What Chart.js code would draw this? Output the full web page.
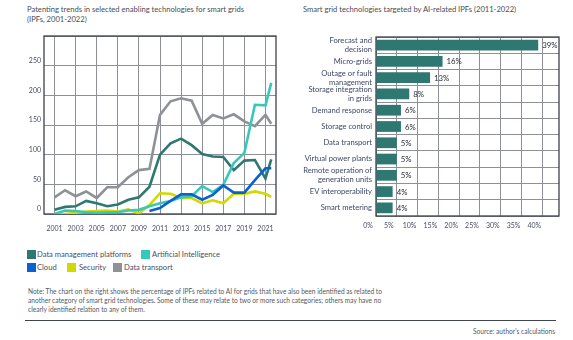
<!DOCTYPE html>
<html>
<head>
<meta charset="utf-8">
<script src="https://cdn.jsdelivr.net/npm/chart.js@4.4.1/dist/chart.umd.min.js"></script>
<style>
  body { margin: 0; background: #fff; font-family: Lato, "Open Sans", sans-serif; }
  #page { position: relative; width: 573px; height: 340px; overflow: hidden; }
  .title { position: absolute; font-size: 7.6px; line-height: 9.5px; color: #4a4d57; }
  canvas { position: absolute; top: 0; }
  .legend { position: absolute; font-size: 7.6px; color: #4a4d66; }
  .legend span { position: absolute; white-space: nowrap; line-height: 9px; }
  .legend i { position: absolute; width: 9px; height: 9px; }
  #note { position: absolute; left: 28px; top: 287px; font-size: 6.6px; line-height: 9px; color: #55585f; white-space: nowrap; }
  #rule { position: absolute; left: 25px; top: 320px; width: 531px; height: 1px; background: #3f434c; }
  #source { position: absolute; right: 18px; top: 327px; font-size: 6.6px; color: #55585f; }
</style>
</head>
<body>
<div id="page">
  <div class="title" style="left:27px; top:5px;">Patenting trends in selected enabling technologies for smart grids<br>(IPFs, 2001-2022)</div>
  <div class="title" style="left:303px; top:5px;">Smart grid technologies targeted by AI-related IPFs (2011-2022)</div>

  <canvas id="trends" width="290" height="240" style="left:0"></canvas>
  <canvas id="targets" width="283" height="240" style="left:290px"></canvas>

  <div class="legend" id="legend"></div>

  <div id="note">Note: The chart on the right shows the percentage of IPFs related to AI for grids that have also been identified as related to<br>another category of smart grid technologies. Some of these may relate to two or more such categories; others may have no<br>clearly identified relation to any of them.</div>
  <div id="rule"></div>
  <div id="source">Source: author's calculations</div>
</div>

<script>
// patent families per year, 2001-2022
const years = [2001, 2002, 2003, 2004, 2005, 2006, 2007, 2008, 2009, 2010, 2011,
               2012, 2013, 2014, 2015, 2016, 2017, 2018, 2019, 2020, 2021, 2022];
const dataManagement = [7, 12, 13, 22, 18, 13, 16, 24, 28, 46, 100, 119, 127, 116, 101, 97, 96, 74, 90, 91, 60, 92];
const artificialIntelligence = [0, 6, 5, 3, 2, 3, 3, 6, 7, 13, 18, 22, 28, 30, 47, 37, 49, 86, 103, 184, 183, 221];
const cloud = [null, null, null, null, null, null, null, null, null, 5, 10, 22, 33, 33, 24, 32, 48, 36, 36, 57, 77, 77];
const security = [0, 0, 2, 4, 5, 6, 4, 8, 1, 15, 35, 34, 27, 27, 18, 23, 18, 34, 34, 38, 34, 29];
const dataTransport = [28, 40, 30, 38, 27, 45, 45, 62, 74, 76, 167, 190, 195, 191, 152, 167, 161, 168, 156, 148, 167, 152];
const yearTicks = [2001, 2003, 2005, 2007, 2009, 2011, 2013, 2015, 2017, 2019, 2021];

// share of AI-related IPFs per smart grid technology (%)
const technologies = [['Forecast and', 'decision'], 'Micro-grids', ['Outage or fault', 'management'],
  ['Storage integration', 'in grids'], 'Demand response', 'Storage control', 'Data transport',
  'Virtual power plants', ['Remote operation of', 'generation units'], 'EV interoperability', 'Smart metering'];
const techShare = [39, 16, 13, 8, 6, 6, 5, 5, 5, 4, 4];
const shareTicks = [0, 5, 10, 15, 20, 25, 30, 35, 40];

const series = [
  { label: 'Data management platforms', data: dataManagement, color: '#2f7771' },
  { label: 'Artificial Intelligence', data: artificialIntelligence, color: '#36c8b8' },
  { label: 'Cloud', data: cloud, color: '#0a62d0' },
  { label: 'Security', data: security, color: '#d3d800' },
  { label: 'Data transport', data: dataTransport, color: '#8e9196' }
];

const FONT = 'Lato, "Open Sans", sans-serif';
const GRID = '#8d9096';
const AXIS = '#3c414b';

// the last point (2022) sits inside the final interval
const xOf = (y) => (y === 2022 ? 2021.55 : y);

// box round the plot area
const frame = {
  id: 'frame',
  beforeDatasetsDraw(chart) {
    const a = chart.chartArea;
    const ctx = chart.ctx;
    ctx.save();
    ctx.strokeStyle = AXIS;
    ctx.lineWidth = 1.3;
    ctx.strokeRect(a.left, a.top, a.right - a.left, a.bottom - a.top);
    ctx.restore();
  }
};

const valueLabels = {
  id: 'valueLabels',
  afterDatasetsDraw(chart) {
    const ctx = chart.ctx;
    const meta = chart.getDatasetMeta(0);
    ctx.save();
    ctx.font = '7.8px ' + FONT;
    ctx.fillStyle = '#2a2f3a';
    ctx.textBaseline = 'middle';
    meta.data.forEach((bar, i) => {
      ctx.fillText(techShare[i] + '%', bar.x + 4, bar.y + 0.5);
    });
    ctx.restore();
  }
};

new Chart(document.getElementById('trends'), {
  type: 'line',
  data: {
    datasets: series.map((s, i) => ({
      label: s.label,
      data: years.map((y, j) => ({ x: xOf(y), y: s.data[j] })).filter(p => p.y !== null),
      borderColor: s.color,
      backgroundColor: s.color,
      borderWidth: 2.6,
      pointRadius: 0,
      tension: 0,
      order: [2, 1, 0, 3, 4][i]
    }))
  },
  options: {
    responsive: false,
    animation: false,
    layout: { padding: { left: 0, top: 36, right: 14, bottom: 0 } },
    plugins: { legend: { display: false }, tooltip: { enabled: false } },
    scales: {
      x: {
        type: 'linear',
        min: 2000,
        max: 2022,
        afterBuildTicks: (scale) => { scale.ticks = yearTicks.map(v => ({ value: v })); },
        afterFit: (scale) => { scale.height = 26; },
        grid: { color: GRID, lineWidth: 1, drawTicks: false },
        border: { display: false },
        ticks: {
          padding: 11,
          maxRotation: 0,
          autoSkip: false,
          color: '#4a4d66',
          font: { family: FONT, size: 7 },
          callback: (v) => String(v)
        }
      },
      y: {
        min: 0,
        max: 300,
        afterFit: (scale) => { scale.width = 44; },
        grid: { color: GRID, lineWidth: 1, drawTicks: false },
        border: { display: false },
        ticks: {
          stepSize: 50,
          padding: 3,
          labelOffset: -5,
          color: '#4a4d66',
          font: { family: FONT, size: 7 },
          callback: (v) => (v === 300 ? '' : v)
        }
      }
    }
  },
  plugins: [frame]
});

new Chart(document.getElementById('targets'), {
  type: 'bar',
  data: {
    labels: technologies,
    datasets: [{
      data: techShare,
      backgroundColor: '#2f7771',
      barPercentage: 0.66,
      categoryPercentage: 1
    }]
  },
  options: {
    indexAxis: 'y',
    responsive: false,
    animation: false,
    layout: { padding: { left: 0, top: 37, right: 14, bottom: 0 } },
    plugins: { legend: { display: false }, tooltip: { enabled: false } },
    scales: {
      x: {
        min: 0,
        max: 44,
        afterBuildTicks: (scale) => { scale.ticks = shareTicks.map(v => ({ value: v })); },
        afterFit: (scale) => { scale.height = 24; },
        grid: { color: GRID, lineWidth: 1, drawTicks: false },
        border: { display: false },
        ticks: {
          padding: 6,
          labelOffset: -8,
          maxRotation: 0,
          autoSkip: false,
          color: '#4a4d66',
          font: { family: FONT, size: 7 },
          callback: (v) => v + '%'
        }
      },
      y: {
        afterFit: (scale) => { scale.width = 86; },
        grid: { color: GRID, lineWidth: 1, drawTicks: false, offset: true },
        border: { display: false },
        ticks: {
          padding: 4,
          autoSkip: false,
          color: '#3e4868',
          font: { family: FONT, size: 7.6, lineHeight: 1.15 }
        }
      }
    }
  },
  plugins: [frame, valueLabels]
});

// legend under the line chart, two rows
const legendSpots = [[27, 250, 37], [141, 250, 152], [27, 263, 37], [67, 263, 79], [113, 263, 124]];
const legend = document.getElementById('legend');
series.forEach((s, i) => {
  const [bx, by, tx] = legendSpots[i];
  const box = document.createElement('i');
  box.style.left = bx + 'px';
  box.style.top = by + 'px';
  box.style.background = s.color;
  const text = document.createElement('span');
  text.style.left = tx + 'px';
  text.style.top = by + 'px';
  text.textContent = s.label;
  legend.appendChild(box);
  legend.appendChild(text);
});
</script>
</body>
</html>
